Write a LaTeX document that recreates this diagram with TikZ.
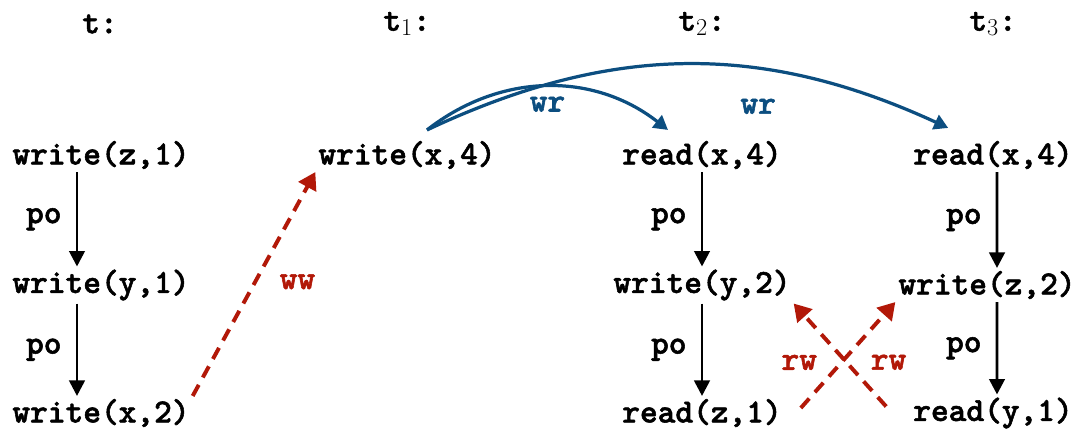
\documentclass[tikz,border=0pt]{standalone}
\usepackage{fontspec}
\newfontfamily\evfont{lmmonolt10-bold.otf}[FakeBold=1.6]
\usetikzlibrary{arrows.meta}
\definecolor{wrblue}{RGB}{12,78,128}
\definecolor{rwred}{RGB}{178,24,8}
\tikzset{
  lbl/.style={font=\fontsize{24}{28}\selectfont\evfont,inner sep=2pt},
  poedge/.style={draw=black,line width=2pt,-{Triangle[length=11pt,width=11pt]}},
  wredge/.style={draw=wrblue,line width=2.3pt,-{Triangle[length=10pt,width=11pt]}},
  rwedge/.style={draw=rwred,line width=2.8pt,dash pattern=on 9pt off 6pt,-{Triangle[length=12pt,width=14pt]}}
}
\begin{document}
\begin{tikzpicture}[x=0.025cm,y=-0.025cm]
  \useasboundingbox (0,0) rectangle (1078,430);
  \begin{scope}[every node/.style={lbl}]
    % thread headers
    \node (t) at (100,24) {t:};
    \node (t1) at (407,24) {t$_1$:};
    \node (t2) at (702,24) {t$_2$:};
    \node (t3) at (993,24) {t$_3$:};
    % events
    \node (wz1) at (101,155) {write(z,1)};
    \node (wy1) at (101,285) {write(y,1)};
    \node (wx2) at (101,413) {write(x,2)};
    \node (wx4) at (407,155) {write(x,4)};
    \node (rx4) at (702,155) {read(x,4)};
    \node (wy2) at (702,285) {write(y,2)};
    \node (rz1) at (702,413) {read(z,1)};
    \node (rx4b) at (993,155) {read(x,4)};
    \node (wz2) at (987,285) {write(z,2)};
    \node (ry1) at (993,413) {read(y,1)};
  \end{scope}
  \begin{scope}[every node/.style={lbl}]
    \path
      ([xshift=-0.6cm]wz1.south) edge [poedge] node [left=8pt] {po} ([xshift=-0.6cm]wy1.north)
      ([xshift=-0.6cm]wy1.south) edge [poedge] node [left=8pt] {po} ([xshift=-0.6cm]wx2.north)
      (rx4.south) edge [poedge] node [left=8pt] {po} (wy2.north)
      (wy2.south) edge [poedge] node [left=8pt] {po} (rz1.north)
      ([xshift=0.1cm]rx4b.south) edge [poedge] node [left=8pt] {po} ([xshift=0.25cm]wz2.north)
      ([xshift=0.25cm]wz2.south) edge [poedge] node [left=8pt] {po} ([xshift=0.1cm]ry1.north);
  \end{scope}
  \begin{scope}[every node/.style={lbl,text=wrblue}]
    \path
      ([xshift=0.5cm,yshift=0.2cm]wx4.north) edge [wredge,bend left=38] node [below=4pt] {wr} ([xshift=-0.85cm,yshift=0.2cm]rx4.north)
      ([xshift=0.5cm,yshift=0.2cm]wx4.north) edge [wredge,bend left=25] node [below=18pt,pos=0.64] {wr} ([xshift=-1.12cm,yshift=0.25cm]rx4b.north);
  \end{scope}
  \begin{scope}[every node/.style={lbl,text=rwred}]
    \path
      (wx2.north east) edge [rwedge] node [right=14pt,pos=0.51] {ww} (wx4.south west)
      ([xshift=0.4cm,yshift=-0.3cm]rz1.north east) edge [rwedge] node [left=14pt,pos=0.43] {rw} (wz2.south west)
      ([xshift=-0.6cm,yshift=-0.3cm]ry1.north west) edge [rwedge] node [right=14pt,pos=0.43] {rw} (wy2.south east);
  \end{scope}
\end{tikzpicture}
\end{document}
